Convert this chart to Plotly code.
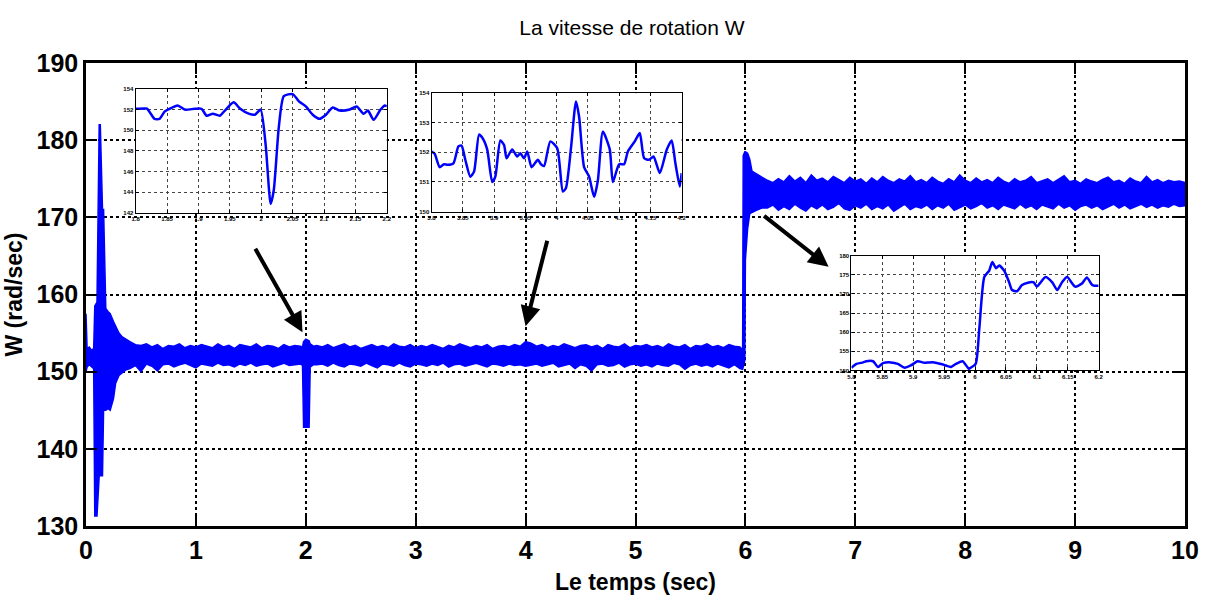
import numpy as np
import plotly.graph_objects as go

# ---------------- main signal envelope (upper / lower edge of the noisy band) -------------
t_a = [0.0, 0.01, 0.03, 0.05, 0.07, 0.08, 0.10, 0.12, 0.13, 0.15, 0.16, 0.18, 0.20, 0.22, 0.25, 0.27, 0.30, 0.33, 0.36]
hi_a = [157.5, 153.0, 153.2, 152.8, 153.0, 158.5, 159.0, 182.0, 182.0, 171.0, 171.0, 158.2, 157.8, 157.5, 156.5, 155.8, 155.0, 154.5, 154.2]
lo_a = [150.0, 150.6, 150.9, 150.6, 150.4, 131.3, 131.3, 136.5, 136.5, 136.5, 145.0, 145.0, 145.2, 145.0, 146.5, 148.5, 149.5, 149.8, 150.2]

hi_b = [153.9, 153.5, 153.4, 153.6, 153.2, 153.5, 153.0, 153.4, 153.3, 153.6, 153.1, 153.4, 153.2, 153.5, 153.3, 153.1,
        153.6, 153.2, 153.4, 153.0, 153.5, 153.3, 153.2, 153.6, 153.1, 153.4, 153.3, 153.0, 153.5, 153.2, 153.4, 153.3]
lo_b = [150.4, 150.8, 150.0, 151.0, 150.7, 150.1, 150.9, 151.0, 150.6, 150.9, 151.1, 150.8, 150.5, 151.0, 150.9, 150.7,
        151.1, 150.8, 150.9, 150.6, 151.0, 150.8, 151.1, 150.7, 150.9, 151.0, 150.6, 150.9, 151.1, 150.8, 150.9, 151.0]
t_b = list(np.round(np.linspace(0.40, 1.95, len(hi_b)), 3))

t_c = [1.97, 1.98, 2.00, 2.03, 2.04, 2.07]
hi_c = [153.2, 153.9, 154.2, 154.0, 153.6, 153.3]
lo_c = [150.8, 142.8, 142.8, 142.8, 150.6, 150.9]

hi_d = [153.4, 153.2, 153.5, 153.1, 153.3, 153.6, 153.2, 153.4, 153.0, 153.3,
        153.5, 153.2, 153.4, 153.1, 153.6, 153.3, 153.2, 153.5, 153.1, 153.4,
        153.2, 153.5, 153.3, 153.0, 153.4, 153.2, 153.6, 153.3, 153.1, 153.4,
        153.2, 153.5, 153.0, 153.3, 153.4, 153.2, 153.5, 153.3, 153.9, 153.7,
        153.3, 153.5, 153.1, 153.4, 153.2, 153.6, 153.3, 153.1, 153.4, 153.5,
        153.2, 153.4, 153.0, 153.5, 153.3, 153.2, 153.6, 153.1, 153.4, 153.3,
        153.5, 153.2, 153.4, 153.1, 153.6, 153.3, 153.2, 153.5, 153.0, 153.4,
        153.3, 153.6, 153.2, 153.4, 153.1, 153.5, 153.3, 153.2]
lo_d = [150.9, 151.0, 150.7, 151.1, 150.8, 150.6, 151.0, 150.9, 150.7, 151.1,
        150.8, 150.5, 151.0, 150.9, 150.7, 151.1, 150.8, 150.6, 151.0, 150.9,
        150.7, 151.0, 150.8, 151.1, 150.6, 150.9, 151.0, 150.7, 150.9, 151.1,
        150.8, 150.6, 151.0, 150.9, 150.7, 151.0, 150.8, 150.9, 150.7, 150.8,
        151.0, 150.7, 150.9, 151.1, 150.6, 150.8, 151.0, 150.4, 150.9, 150.7,
        150.1, 150.9, 151.0, 150.7, 150.8, 151.1, 150.6, 150.9, 151.0, 150.7,
        150.9, 150.6, 151.0, 150.8, 150.7, 151.1, 150.9, 150.3, 150.8, 151.0,
        150.7, 150.9, 150.6, 151.0, 150.8, 150.5, 150.9, 150.4]
t_d = list(np.round(np.linspace(2.10, 5.95, len(hi_d)), 3))

t_e = [5.975, 5.98, 5.995, 6.0, 6.02, 6.04, 6.06, 6.10, 6.15]
hi_e = [152.8, 178.0, 178.5, 178.5, 178.3, 177.5, 176.0, 175.6, 175.2]
lo_e = [150.3, 150.5, 151.5, 164.5, 168.5, 170.5, 170.6, 170.9, 171.2]

hi_f = [174.8, 174.5, 175.0, 174.6, 175.4, 174.7, 175.2, 174.5, 175.5, 174.8,
        175.1, 174.6, 175.3, 174.9, 174.5, 175.2, 174.7, 175.0, 174.4, 175.1,
        174.6, 175.3, 174.8, 174.5, 175.0, 174.7, 175.4, 174.6, 174.9, 174.5,
        175.2, 174.7, 174.4, 175.0, 174.6, 175.5, 174.8, 174.5, 175.1, 174.6,
        174.9, 174.5, 175.2, 174.7, 174.4, 175.0, 174.6, 174.8, 175.3, 174.5,
        174.7, 175.0, 174.5, 174.9, 175.4, 174.6, 174.8, 174.4, 175.0, 174.7,
        174.5, 174.9, 175.2, 174.6, 174.8, 174.4, 175.1, 174.7, 174.5, 175.3,
        174.6, 174.9, 174.5, 174.8, 174.6, 174.7, 174.5]
lo_f = [171.2, 171.6, 170.9, 171.4, 171.0, 171.7, 171.2, 170.8, 171.5, 171.1,
        171.6, 171.0, 171.3, 171.8, 171.1, 170.9, 171.5, 171.2, 171.7, 171.0,
        171.4, 171.1, 171.6, 170.8, 171.3, 171.7, 171.0, 171.4, 171.2, 171.6,
        171.0, 171.5, 171.2, 171.7, 170.9, 171.3, 171.6, 171.1, 171.4, 171.8,
        171.2, 171.5, 171.0, 171.6, 171.3, 171.1, 171.7, 171.2, 171.5, 171.0,
        171.6, 171.3, 171.1, 171.7, 171.2, 171.5, 170.9, 171.4, 171.6, 171.2,
        171.5, 171.0, 171.4, 171.7, 171.2, 171.6, 171.1, 171.4, 171.7, 171.3,
        171.6, 171.2, 171.5, 171.3, 171.7, 171.4, 171.5]
t_f = list(np.round(np.linspace(6.20, 10.0, len(hi_f)), 3))

t_main = t_a + t_b + t_c + t_d + t_e + t_f
hi_main = hi_a + hi_b + hi_c + hi_d + hi_e + hi_f
lo_main = lo_a + lo_b + lo_c + lo_d + lo_e + lo_f

# ---------------- zoom insets ----------------
t_z1 = [1.8, 1.813, 1.818, 1.824, 1.83, 1.838, 1.846, 1.854, 1.867, 1.878, 1.894, 1.905, 1.913, 1.923, 1.934,
        1.942, 1.956, 1.966, 1.98, 1.99, 1.999, 2.007, 2.015, 2.02, 2.028, 2.036, 2.05, 2.06, 2.071, 2.082,
        2.093, 2.103, 2.114, 2.125, 2.141, 2.152, 2.163, 2.17, 2.179, 2.19, 2.197, 2.2]
w_z1 = [152.07, 152.1, 152.1, 151.6, 151.1, 151.1, 151.8, 152.07, 152.4, 152.0, 152.07, 152.07, 151.4, 151.6, 151.4,
        151.9, 152.7, 152.1, 151.6, 151.5, 152.0, 148.6, 142.85, 144.2, 150.3, 153.3, 153.5, 152.8, 152.3, 151.5,
        151.1, 151.5, 152.2, 151.9, 152.0, 152.3, 151.6, 151.9, 151.0, 152.0, 152.4, 152.3]

t_z2 = [3.8, 3.805, 3.813, 3.82, 3.826, 3.835, 3.843, 3.848, 3.854, 3.862, 3.868, 3.876, 3.881, 3.889, 3.897,
        3.902, 3.91, 3.916, 3.92, 3.929, 3.937, 3.942, 3.948, 3.953, 3.96, 3.97, 3.975, 3.98, 3.99, 4.001,
        4.01, 4.015, 4.023, 4.031, 4.036, 4.044, 4.052, 4.06, 4.066, 4.074, 4.085, 4.09, 4.1, 4.108, 4.114,
        4.125, 4.133, 4.14, 4.148, 4.155, 4.165, 4.176, 4.184, 4.19, 4.197, 4.2]
w_z2 = [152.03, 151.95, 151.5, 151.6, 151.58, 151.63, 152.2, 152.23, 151.75, 151.18, 151.35, 152.6, 152.5, 152.1, 151.0,
        151.18, 152.4, 152.25, 151.8, 152.1, 151.86, 151.97, 151.8, 152.03, 151.5, 151.75, 151.6, 151.54, 152.37, 152.14,
        150.68, 150.8, 152.14, 153.72, 153.2, 151.5, 151.18, 150.5, 151.05, 152.7, 152.1, 151.0, 151.6, 151.6, 152.03,
        152.37, 152.65, 151.8, 151.75, 151.86, 151.3, 152.08, 152.4, 151.63, 150.85, 151.3]

t_z3 = [5.8, 5.808, 5.819, 5.824, 5.835, 5.843, 5.851, 5.864, 5.875, 5.886, 5.896, 5.907, 5.918, 5.926, 5.934,
        5.945, 5.961, 5.969, 5.98, 5.99, 5.993, 6.001, 6.007, 6.015, 6.023, 6.028, 6.034, 6.039, 6.047, 6.055,
        6.06, 6.068, 6.076, 6.087, 6.095, 6.1, 6.114, 6.125, 6.133, 6.141, 6.149, 6.162, 6.173, 6.181, 6.19, 6.2]
w_z3 = [150.7, 151.7, 152.1, 152.4, 152.4, 150.9, 151.9, 152.1, 151.7, 150.7, 151.3, 152.4, 152.0, 152.1, 152.1,
        151.7, 150.9, 151.7, 152.4, 150.4, 150.7, 151.7, 161.1, 174.4, 176.1, 178.3, 176.7, 177.4, 176.1, 173.1,
        171.0, 170.7, 172.3, 173.0, 173.0, 171.9, 174.4, 173.0, 171.0, 173.1, 174.4, 171.9, 172.7, 174.3, 172.3, 172.1]

# ---------------- axis ticks ----------------
x_ticks = list(range(0, 11))
y_ticks = [130, 140, 150, 160, 170, 180, 190]

BLUE = "#0000FF"
NARROW = "Liberation Sans Narrow, Arial Narrow, Liberation Sans, Arial, sans-serif"

fig = go.Figure()

fig.add_trace(go.Scatter(
    x=t_main + t_main[::-1], y=hi_main + lo_main[::-1],
    fill="toself", fillcolor=BLUE, mode="lines",
    line=dict(color=BLUE, width=1.5), hoverinfo="skip", showlegend=False,
    xaxis="x", yaxis="y"))

for t_z, w_z, ax in [(t_z1, w_z1, "2"), (t_z2, w_z2, "3"), (t_z3, w_z3, "4")]:
    fig.add_trace(go.Scatter(x=t_z, y=w_z, mode="lines", line=dict(color=BLUE, width=2.5, shape="spline", smoothing=0.6),
                             showlegend=False, hoverinfo="skip", xaxis="x" + ax, yaxis="y" + ax))

main_ax = dict(showline=True, linecolor="black", linewidth=2.5, mirror="allticks",
               ticks="inside", ticklen=11, tickwidth=2, tickcolor="black",
               showgrid=True, gridcolor="black", gridwidth=2, griddash="dot",
               zeroline=False,
               tickfont=dict(family=NARROW, size=25, color="black", weight="bold"))

inset_common = dict(showline=True, linecolor="black", linewidth=1.2, mirror="allticks",
                    ticks="inside", ticklen=3, tickwidth=1, tickcolor="black",
                    showgrid=True, gridcolor="#444444", gridwidth=1, griddash="dot",
                    zeroline=False,
                    tickfont=dict(family=NARROW, size=6, color="black", weight="bold"))

layout = dict(
    width=1213, height=610,
    margin=dict(l=80, r=28, t=63, b=84),
    paper_bgcolor="white", plot_bgcolor="white",
    title=dict(text="La vitesse de rotation W", x=0.521, xanchor="center", y=0.954, yanchor="middle",
               font=dict(family=NARROW, size=21, color="black")),
    xaxis=dict(main_ax, range=[0, 10], tickvals=x_ticks, domain=[0, 1],
               title=dict(text="Le temps (sec)", font=dict(family=NARROW, size=23, color="black", weight="bold"), standoff=12)),
    yaxis=dict(main_ax, range=[130, 190], tickvals=y_ticks, domain=[0, 1],
               title=dict(text="W (rad/sec)", font=dict(family=NARROW, size=23, color="black", weight="bold"), standoff=8)),
    xaxis2=dict(inset_common, range=[1.8, 2.2], dtick=0.05, domain=[0.0452, 0.2737], anchor="y2"),
    yaxis2=dict(inset_common, range=[142, 154], dtick=2, domain=[0.6767, 0.944], anchor="x2"),
    xaxis3=dict(inset_common, range=[3.8, 4.2], dtick=0.05, domain=[0.3144, 0.542], anchor="y3"),
    yaxis3=dict(inset_common, range=[150, 154], dtick=1, domain=[0.679, 0.935], anchor="x3"),
    xaxis4=dict(inset_common, range=[5.8, 6.2], dtick=0.05, domain=[0.6965, 0.9214], anchor="y4"),
    yaxis4=dict(inset_common, range=[150, 180], dtick=5, domain=[0.336, 0.584], anchor="x4"),
)
fig.update_layout(**layout)

# arrows pointing from the insets to the zoomed regions
arrows = [(1.97, 155.1, -48, -85), (4.0, 155.9, 22, -87), (6.757, 163.6, -66, -52)]
for xa, ya, axp, ayp in arrows:
    fig.add_annotation(x=xa, y=ya, xref="x", yref="y", ax=axp, ay=ayp, text="",
                       showarrow=True, arrowhead=2, arrowsize=1.0, arrowwidth=4, arrowcolor="black")

fig.write_html("out.html")
